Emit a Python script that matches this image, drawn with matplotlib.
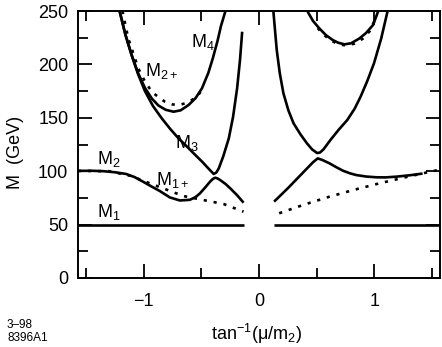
import matplotlib
matplotlib.use("Agg")
import matplotlib.pyplot as plt
from matplotlib.ticker import MultipleLocator

plt.rcParams['font.family'] = ['Liberation Sans', 'DejaVu Sans']
plt.rcParams['mathtext.fontset'] = 'custom'
plt.rcParams['mathtext.rm'] = 'Liberation Sans'
plt.rcParams['mathtext.it'] = 'Liberation Sans:italic'

# ---- data ----
m1_left_x = [-1.571, -0.13]
m1_left_y = [50, 50]
m1_right_x = [0.13, 1.571]
m1_right_y = [50, 50]

m2_left_x = [-1.571, -1.45, -1.35, -1.25, -1.153, -1.08, -1.007, -0.93, -0.862, -0.775,
             -0.687, -0.60, -0.55, -0.512, -0.465, -0.425, -0.40, -0.38, -0.36, -0.338,
             -0.29, -0.25, -0.19, -0.134]
m2_left_y = [100.3, 100.4, 100, 99, 97.4, 94.5, 90.2, 85.5, 81.5, 75.5,
             72.6, 73.2, 75.8, 79.3, 85, 90.2, 92.8, 93.9, 93.2, 91.8,
             88, 84, 77.5, 70.5]

m1p_left_x = [-1.571, -1.30, -1.109, -1.007, -0.833, -0.658, -0.483, -0.308, -0.134]
m1p_left_y = [100.3, 100, 95.5, 91.1, 84, 76.8, 73, 69.3, 62.1]

m3_left_x = [-1.21, -1.16, -1.106, -1.05, -0.99, -0.92, -0.844, -0.77, -0.699, -0.62,
             -0.553, -0.49, -0.43, -0.393, -0.37, -0.349, -0.31, -0.262, -0.225, -0.19,
             -0.165, -0.146]
m3_left_y = [250, 228, 208.8, 191, 175, 161, 149.5, 139.5, 130.8, 122.5,
             115.2, 108.5, 101.5, 97.4, 98.8, 102.7, 114, 130.8, 151, 177.6,
             204, 230.6]

m4_left_x = [-1.21, -1.16, -1.106, -1.05, -0.99, -0.93, -0.873, -0.81, -0.742, -0.68,
             -0.611, -0.55, -0.495, -0.44, -0.40, -0.36, -0.33, -0.291]
m4_left_y = [250, 228, 209, 192, 178, 168, 161.5, 157.5, 155.7, 157,
             162, 168.5, 177.6, 192, 206, 222, 236, 250]

m2p_left_x = [-1.185, -1.135, -1.09, -1.048, -0.99, -0.93, -0.87, -0.815, -0.75, -0.699,
              -0.64, -0.582, -0.53, -0.495]
m2p_left_y = [250, 224.4, 210, 196.3, 184, 174.4, 169, 165, 162.5, 162,
              163.5, 166.7, 171, 176]

m1p_right_x = [0.175, 0.40, 0.611, 0.83, 1.048, 1.27, 1.485, 1.571]
m1p_right_y = [60.6, 69, 76.1, 82.7, 88.7, 94.3, 99.5, 101.5]

m2_right_x = [0.131, 0.25, 0.38, 0.47, 0.51, 0.55, 0.611, 0.67, 0.728, 0.79,
              0.844, 0.93, 1.019, 1.10, 1.194, 1.31, 1.42]
m2_right_y = [71.5, 84, 98.5, 108.5, 112, 110.5, 107.4, 103.8, 100.5, 98,
              96.4, 95, 94.3, 94.2, 94.9, 96.2, 97.8]

m3_right_x = [0.125, 0.154, 0.18, 0.212, 0.255, 0.30, 0.36, 0.416, 0.46, 0.504,
              0.53, 0.56, 0.62, 0.69, 0.766, 0.83, 0.882, 0.94, 0.998, 1.06, 1.115]
m3_right_y = [249.4, 213.5, 192, 172.9, 157, 144.8, 134.5, 126.1, 120.5, 117,
              117.5, 120.5, 129.2, 138.6, 147.9, 158.5, 169.8, 184.5, 201, 224, 249.4]

m4_right_x = [0.422, 0.47, 0.524, 0.58, 0.64, 0.69, 0.742, 0.80, 0.873, 0.93, 0.99, 1.033]
m4_right_y = [249.4, 240.5, 233.7, 227.5, 222.8, 220.2, 218.8, 219.8, 224.4, 229.5, 236.9, 249.4]

m2p_right_x = [0.51, 0.55, 0.62, 0.70, 0.76, 0.83, 0.90, 0.96, 1.02]
m2p_right_y = [234, 229, 222.5, 218.5, 217.8, 219.5, 224, 231, 245]

labels = [r'$\mathregular{M_4}$', r'$\mathregular{M_{2+}}$', r'$\mathregular{M_3}$',
          r'$\mathregular{M_2}$', r'$\mathregular{M_{1+}}$', r'$\mathregular{M_1}$']
label_x = [-0.588, -0.99, -0.727, -1.409, -0.89, -1.41]
label_y = [216.3, 189, 121.4, 106.7, 87, 57.4]

xticks_major = [-1, 0, 1]
yticks_major = [0, 50, 100, 150, 200, 250]

# ---- figure ----
fig = plt.figure(figsize=(4.42, 3.47), dpi=100)
ax = fig.add_axes([78/442, 1-278/347, (440-78)/442, (278-11)/347])

solid = dict(color='black', lw=1.9, solid_capstyle='butt')
dotted = dict(color='black', lw=1.9, linestyle=(0, (1.2, 2.6)), dash_capstyle='butt')

ax.plot(m1_left_x, m1_left_y, **solid)
ax.plot(m1_right_x, m1_right_y, **solid)
ax.plot(m1p_left_x, m1p_left_y, **dotted)
ax.plot(m2_left_x, m2_left_y, **solid)
ax.plot(m3_left_x, m3_left_y, **solid)
ax.plot(m2p_left_x, m2p_left_y, **dotted)
ax.plot(m4_left_x, m4_left_y, **solid)
ax.plot(m1p_right_x, m1p_right_y, **dotted)
ax.plot(m2_right_x, m2_right_y, **solid)
ax.plot(m3_right_x, m3_right_y, **solid)
ax.plot(m2p_right_x, m2p_right_y, **dotted)
ax.plot(m4_right_x, m4_right_y, **solid)

for t, x, y in zip(labels, label_x, label_y):
    ax.text(x, y, t, fontsize=13, ha='left', va='baseline')

ax.set_xlim(-1.571, 1.571)
ax.set_ylim(0, 250)
ax.set_xticks(xticks_major)
ax.set_xticklabels(['\u22121', '0', '1'])
ax.set_yticks(yticks_major)
ax.xaxis.set_minor_locator(MultipleLocator(0.5))
ax.yaxis.set_minor_locator(MultipleLocator(25))
ax.tick_params(which='both', direction='in', top=True, right=True, width=1.3, labelsize=13)
ax.tick_params(which='major', length=10)
ax.tick_params(which='minor', length=7.5)
ax.tick_params(axis='x', which='major', pad=11)
ax.tick_params(axis='y', which='major', pad=7)
for s in ax.spines.values():
    s.set_linewidth(1.4)

fig.text(16/442, 1-152/347, 'M  (GeV)', rotation=90, fontsize=13, ha='center', va='center')
fig.text(257/442, 1-334/347, r'$\mathregular{tan^{-1}(μ/m_2)}$', fontsize=13,
         ha='center', va='center')
fig.text(7/442, 1-325/347, '3\u201398', fontsize=8.5, ha='left', va='center')
fig.text(7/442, 1-338/347, '8396A1', fontsize=8.5, ha='left', va='center')

fig.savefig('out.png', dpi=100)
